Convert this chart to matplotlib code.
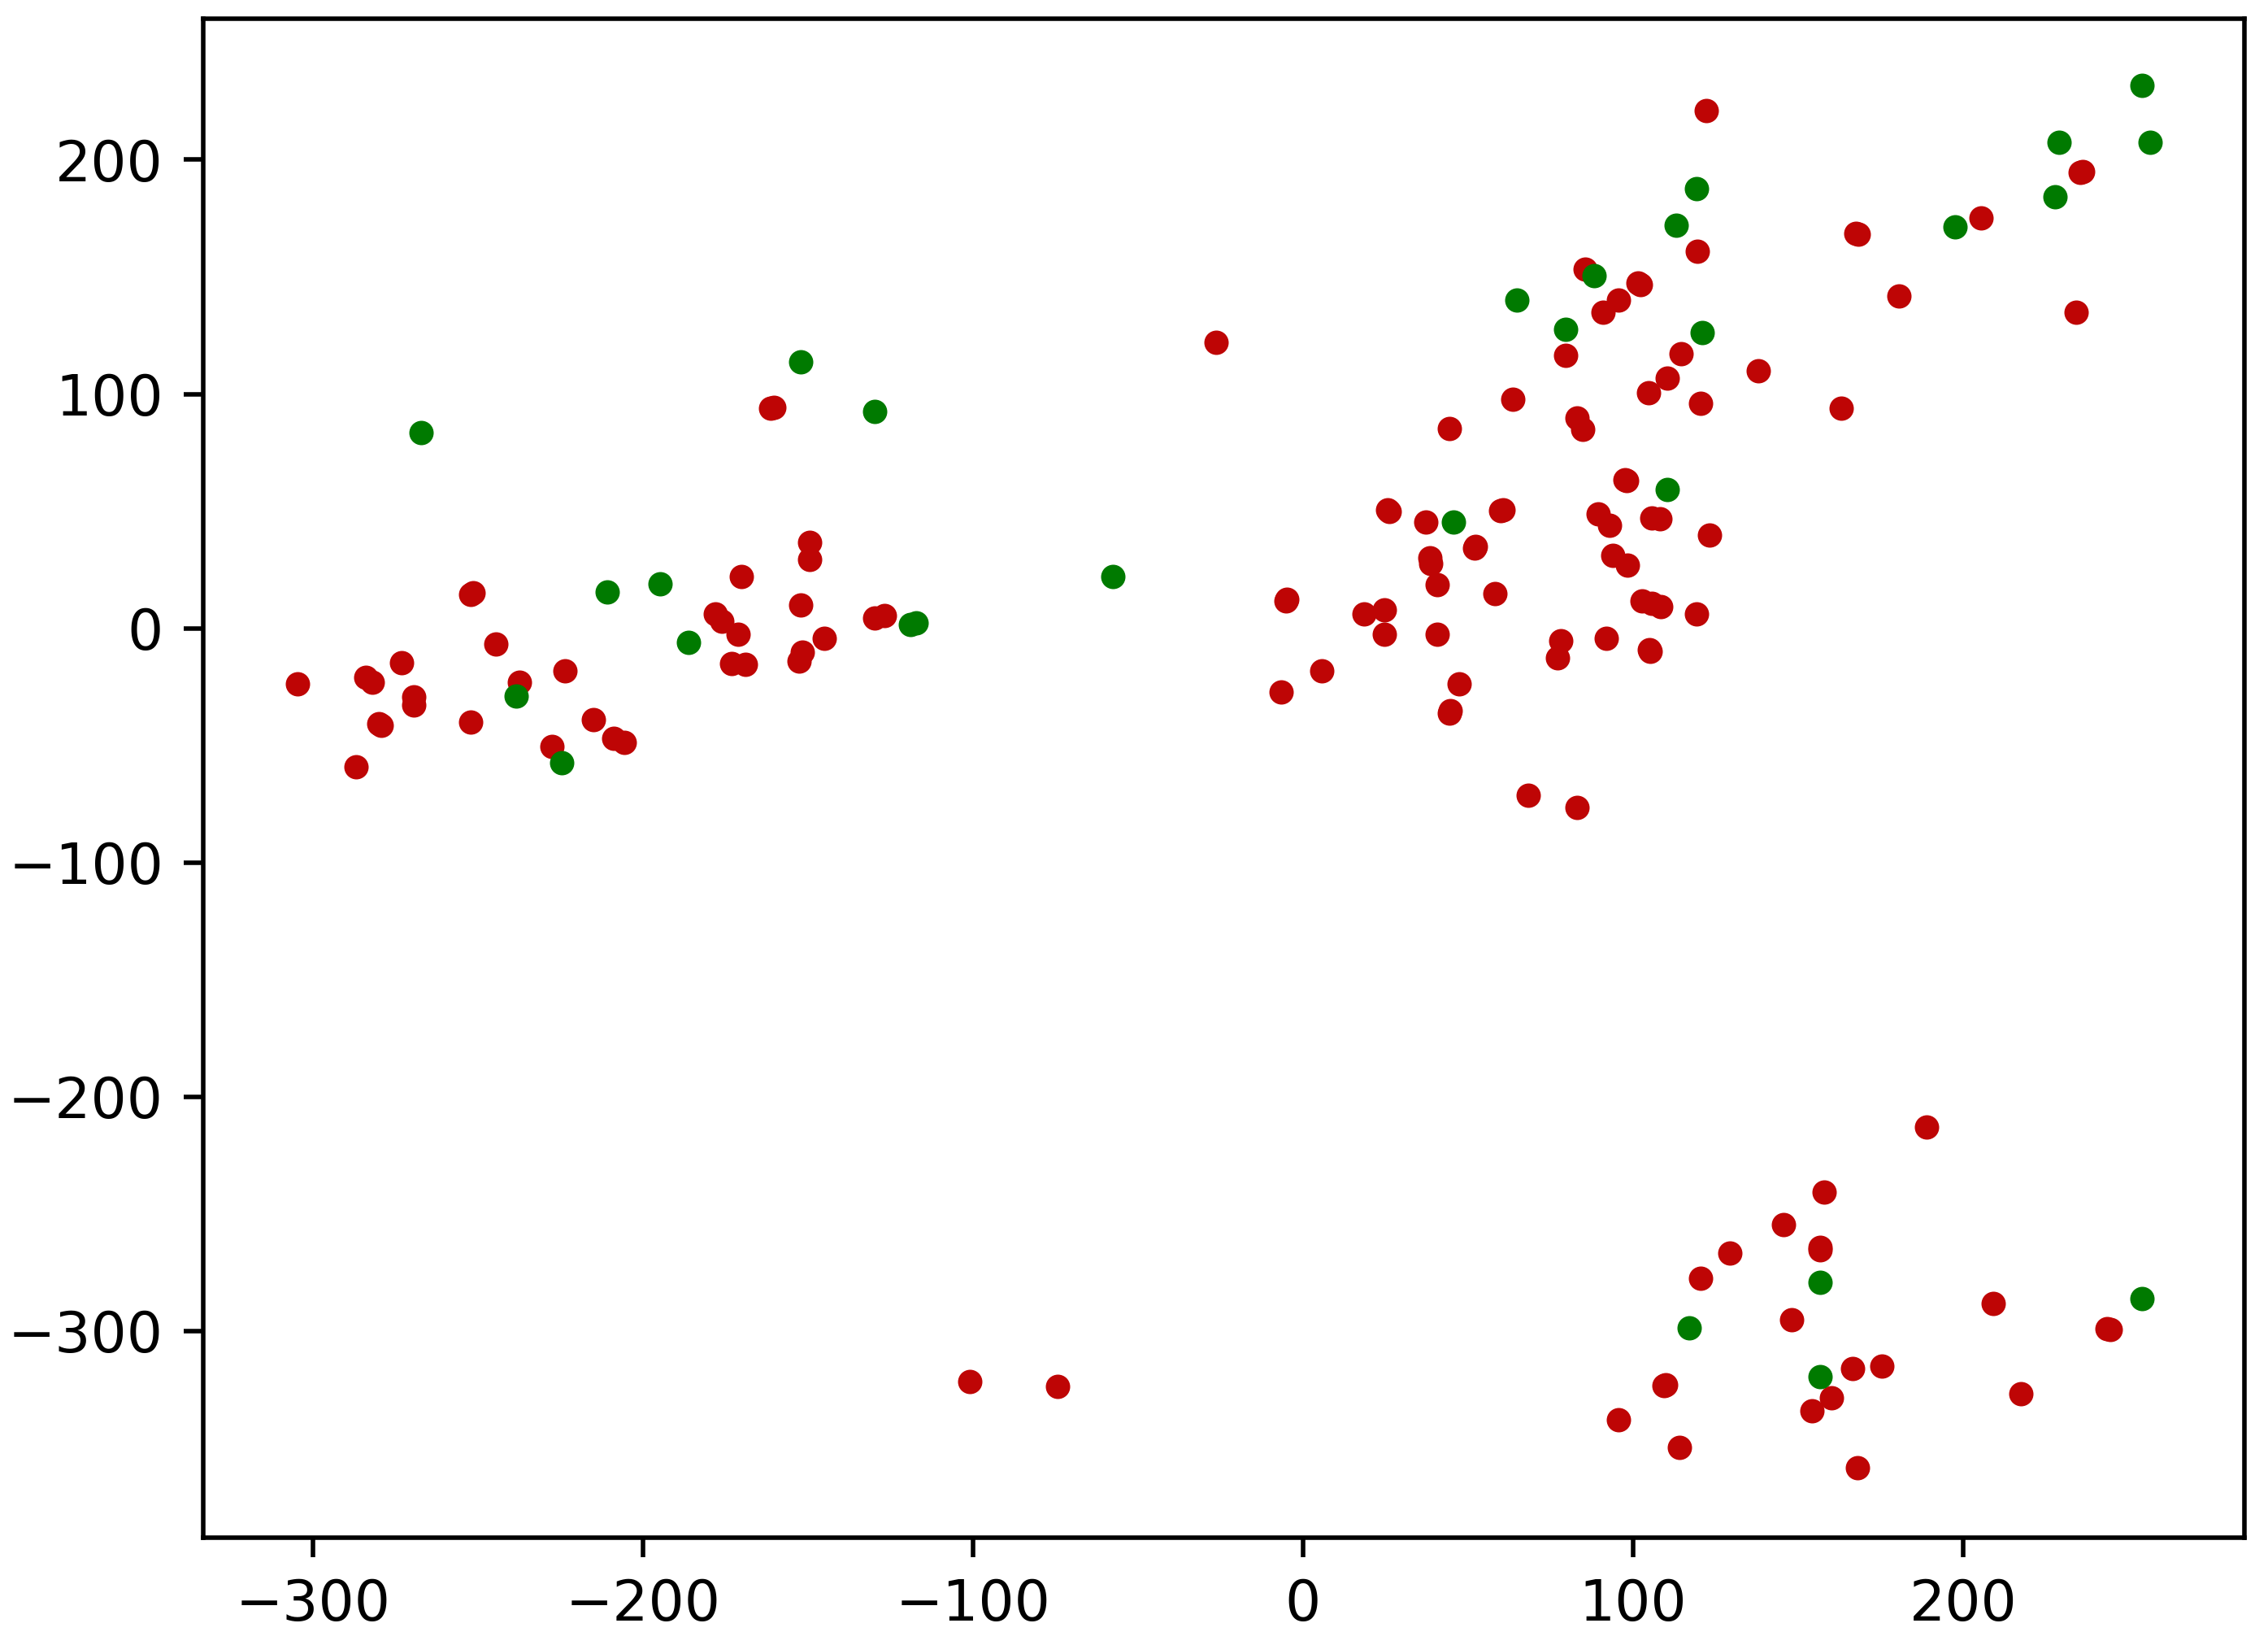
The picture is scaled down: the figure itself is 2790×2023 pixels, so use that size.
import matplotlib
matplotlib.use("Agg")
import matplotlib.pyplot as plt

# Points, split by class colour.
# Some spots in the reference are two nearly coincident points, so they appear twice here.
red_x = [-304.6, -284, -282, -273.1, -269.5, -269.5, -279.3, -280.0, -287.0, -252.1,
         -251.5, -244.6, -252.1, -237.4, -223.5, -227.6, -214.9, -208.8, -205.7, -178,
         -176, -171.1, -173, -169, -170.1, -161.2, -160.4, -149.5, -149.5, -152.2,
         -151.6, -152.6, -145.1, -129.8, -126.7, -101.0, -74.3, -26.4, 122.1, 235.6,
         236.3, 119.5, 168.2, 167.6, 205.4, 180.6, 234.4, 85.4, 102.2, 101.6,
         95.7, 91.0, 79.5, 114.6, 110.4, 104.6, 138.0, 120.5, 163.0, 63.6,
         44.4, 83.0, 84.7, 98.0, 97.5, 25.7, 26.2, 60.6, 60.0, 37.2,
         89.4, 92.9, 105.7, 108.1, 123.3, 51.9, 52.3, 38.4, 38.6, 94.0,
         98.2, 40.7, 58.2, -5.1, -4.8, 18.5, 24.6, 24.6, 40.7, 102.7,
         105.7, 108.5, 119.3, 78.1, 77.2, 91.9, 105.3, 104.9, 5.8, -6.5,
         47.3, 44.4, 44.5, 68.3, 83.0, 189.0, 157.9, 145.5, 156.7, 156.6,
         129.4, 120.5, 148.1, 209.1, 243.7, 244.6, 166.5, 175.4, 160.2, 154.2,
         109.5, 110.0, 95.7, 114.2, 168.0, 217.5]
red_y = [-23.7, -21, -23, -14.6, -29.3, -32.7, -41.5, -40.8, -59.0, 14.6,
         15.2, -6.6, -40.0, -22.9, -18.0, -50.5, -39.0, -46.8, -48.8, 6,
         3, -2.4, -15, -15.3, 22.2, 93.9, 94.3, 36.6, 29.3, 9.8,
         -10.2, -13.9, -4.1, 4.4, 5.6, -321.6, -323.5, 122.2, 221.0, 194.6,
         195.1, 161.0, 168.3, 168.7, 175.1, 141.7, 134.9, 153.2, 146.8, 147.4,
         140.2, 134.9, 116.6, 117.1, 106.8, 100.7, 110.0, 95.9, 94.1, 97.8,
         85.4, 89.8, 84.9, 62.9, 63.3, 50.7, 50.0, 50.7, 50.3, 45.4,
         48.8, 43.9, 47.1, 46.6, 39.8, 34.4, 35.1, 30.0, 27.6, 31.2,
         27.1, 18.5, 14.9, 11.7, 12.5, 6.3, 8.0, -2.4, -2.4, 11.7,
         10.5, 9.3, 6.1, -5.4, -12.7, -4.1, -9.8, -9.0, -18.0, -27.3,
         -23.7, -36.3, -35.3, -71.2, -76.6, -213.0, -240.8, -254.5, -265.2, -264.2,
         -266.8, -277.6, -295.0, -288.3, -299.1, -299.4, -315.9, -314.9, -328.5, -333.9,
         -323.4, -322.9, -337.8, -349.6, -358.4, -326.7]

green_x = [-267.1, -238.4, -224.7, -210.9, -194.7, -186.2, -152.2, -129.8, -119, -117.3,
           -57.5, 254.3, 256.6, 229.0, 227.8, 119.3, 113.2, 197.7, 88.2, 64.8,
           79.5, 120.9, 110.4, 45.6, 156.7, 117.0, 254.3, 156.7]
green_y = [83.7, -29.0, -57.3, 15.4, 19.0, -6.1, 113.7, 92.7, 1.5, 2.4,
           22.2, 231.7, 207.3, 207.3, 184.1, 187.8, 172.0, 171.5, 150.7, 140.2,
           127.6, 126.3, 59.3, 45.4, -279.1, -298.5, -286.2, -319.6]

fig = plt.figure(figsize=(5.58, 4.046), dpi=500)
ax = fig.add_axes([0.0895, 0.0652, 0.9, 0.9234])

ax.scatter(red_x, red_y, s=11, color="#be0505")
ax.scatter(green_x, green_y, s=11, color="#007a00")

ax.set_xlim(-333.3, 285.2)
ax.set_ylim(-388.2, 260.2)

fig.savefig("out.png", dpi=500)
